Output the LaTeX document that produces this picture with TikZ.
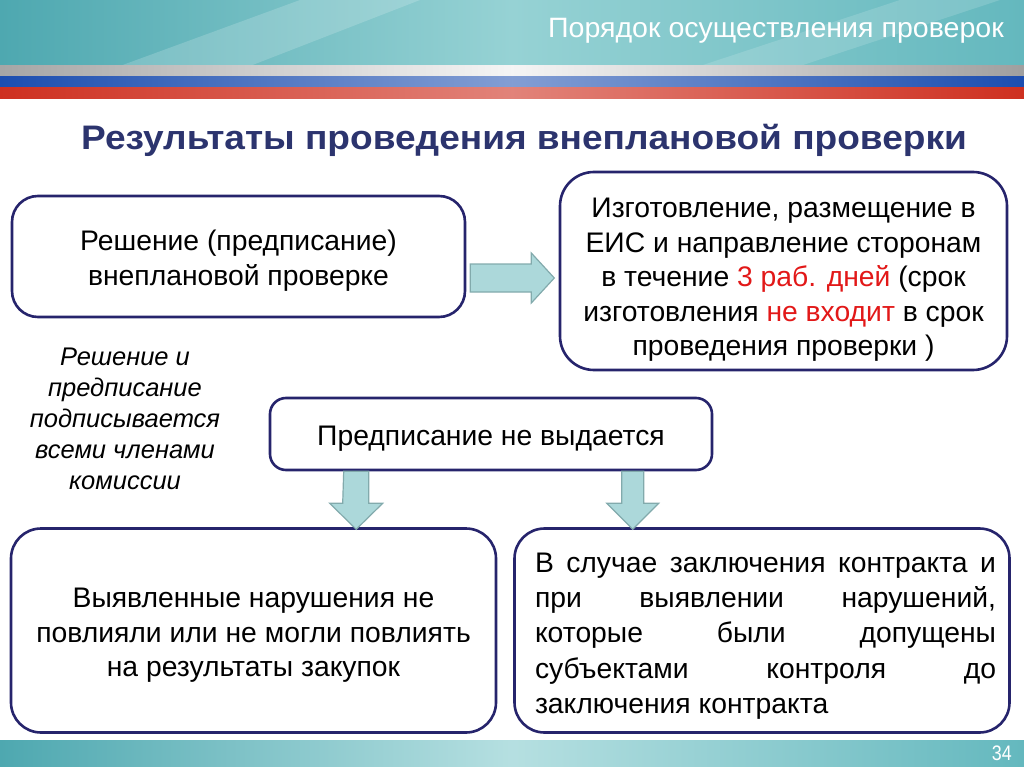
\documentclass[tikz,border=0pt]{standalone}
\usepackage{fontspec}
\setmainfont{Liberation Sans}
\usetikzlibrary{calc}
\definecolor{boxline}{RGB}{38,36,108}
\definecolor{titleblue}{RGB}{44,52,110}
\definecolor{arrowfill}{RGB}{172,216,218}
\definecolor{arrowline}{RGB}{130,170,172}
\definecolor{tealA}{RGB}{78,168,176}
\definecolor{tealB}{RGB}{150,210,212}
\definecolor{tealC}{RGB}{100,184,190}
\definecolor{flagblue}{RGB}{28,78,176}
\definecolor{flagred}{RGB}{206,48,32}
\definecolor{hlred}{RGB}{226,24,24}
\tikzset{
  box/.style={draw=boxline, line width=2.6pt, fill=white, rounded corners=#1, inner sep=0pt},
  box/.default=26pt,
  boxtext/.style={font=\fontsize{28.3}{34.5}\selectfont, align=center, text=black, inner sep=0pt},
  fatarrow/.style={fill=arrowfill, draw=arrowline, line width=1.2pt, line join=miter},
}
\begin{document}
\begin{tikzpicture}[x=1pt,y=-1pt]
\useasboundingbox (0,0) rectangle (1024,767);
% header
\shade[left color=tealA, right color=tealC, middle color=tealB] (0,0) rectangle (1024,66);
\fill[white,opacity=0.18] (120,66) -- (300,0) -- (420,0) -- (250,66) -- cycle;
\fill[white,opacity=0.15] (700,66) -- (900,0) -- (1000,0) -- (800,66) -- cycle;
\shade[left color=gray!70, right color=gray!75, middle color=white!92!gray] (0,66) rectangle (1024,77);
\shade[left color=flagblue, right color=flagblue, middle color=flagblue!55!white] (0,77) rectangle (1024,88);
\shade[left color=flagred, right color=flagred, middle color=flagred!60!white] (0,88) rectangle (1024,99);
\node[anchor=east, text=white, font=\fontsize{28}{30}\selectfont, inner sep=0pt] (hdr) at (1004,31)
  {\scalebox{1.02}[1]{Порядок осуществления проверок}};
% footer
\shade[left color=tealA, right color=tealC, middle color=tealB!70!white] (0,740) rectangle (1024,767);
\node[anchor=east, text=white, font=\fontsize{21}{22}\selectfont, inner sep=0pt] (pgnum) at (1012,753)
  {\scalebox{0.85}[1]{34}};
% title
\node[text=titleblue, font=\fontsize{34}{40}\selectfont\bfseries, inner sep=0pt] (title) at (524,140)
  {\scalebox{1.09}[1]{Результаты проведения внеплановой проверки}};
% boxes
\node[box, minimum width=453pt, minimum height=121pt] (A) at (238.5,256.5) {};
\node[boxtext] at ($(A.center)+(0,4)$) {Решение (предписание)\\внеплановой проверке};
\node[box=34pt, minimum width=447pt, minimum height=198pt] (B) at (783.5,271) {};
\node[boxtext] at ($(B.center)+(0,9)$) {Изготовление, размещение в\\ЕИС и направление сторонам\\в течение \textcolor{hlred}{3 раб. дней} (срок\\изготовления \textcolor{hlred}{не входит} в срок\\проведения проверки )};
\node[box=16pt, minimum width=442pt, minimum height=72pt] (C) at (491,434) {};
\node[boxtext] at ($(C.center)+(0,5)$) {Предписание не выдается};
\node[box=30pt, minimum width=485pt, minimum height=204pt] (D) at (253.5,630.5) {};
\node[boxtext] at ($(D.center)+(0,5)$) {Выявленные нарушения не\\повлияли или не могли повлиять\\на результаты закупок};
\node[box=30pt, minimum width=495pt, minimum height=204pt] (E) at (762,630.5) {};
\node[font=\fontsize{28.3}{35.3}\selectfont, align=left, inner sep=0pt] (Et) at (765.5,636)
  {\makebox[461pt][s]{В случае заключения контракта и}\\
   \makebox[461pt][s]{при выявлении нарушений,}\\
   \makebox[461pt][s]{которые были допущены}\\
   \makebox[461pt][s]{субъектами контроля до}\\
   \makebox[461pt][l]{заключения контракта}};
% side note
\node[font=\fontsize{25.5}{31}\selectfont\itshape, align=center, inner sep=0pt] (note) at (125,419)
  {Решение и\\предписание\\подписывается\\всеми членами\\комиссии};
% arrows
\draw[fatarrow] ($(A.east)+(4,7.5)$) coordinate (ar0)
  -- ++(61,0) -- ++(0,-11) -- ++(23,25) -- ++(-23,25) -- ++(0,-11) -- ++(-61,0) -- cycle;
\draw[fatarrow] ($(C.south west)+(75,0)$) coordinate (dl0)
  -- ++(25,0) -- ++(0,32) -- ++(14,0) -- ++(-26.5,26) -- ++(-26.5,-26) -- ++(13,0) -- cycle;
\draw[fatarrow] ($(C.south west)+(353,0)$) coordinate (dr0)
  -- ++(22,0) -- ++(0,32) -- ++(15,0) -- ++(-26,26) -- ++(-26,-26) -- ++(15,0) -- cycle;
\end{tikzpicture}
\end{document}
